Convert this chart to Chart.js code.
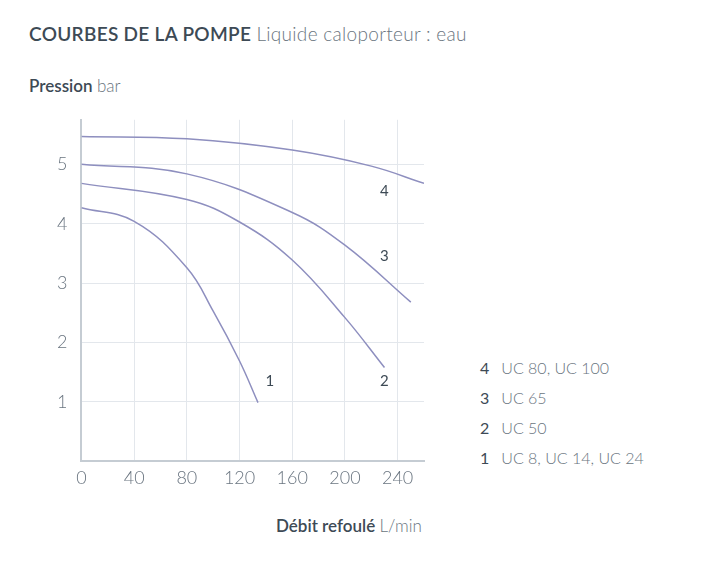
<!DOCTYPE html><html><head><meta charset="utf-8">
<script src="https://cdn.jsdelivr.net/npm/chart.js@4"></script>
<style>
body{margin:0;width:720px;height:570px;background:#fff;font-family:Lato,"Open Sans",sans-serif;color:#3d4a55;position:relative}
.t{position:absolute;left:29px;top:22px;font-size:19px;letter-spacing:0.3px}
.p{position:absolute;left:29px;top:75px;font-size:17px}
.x{position:absolute;left:276px;top:515px;font-size:17px}
.lg{position:absolute;left:480px;font-size:16px;color:#6a7580;font-weight:300}
.lg b{font-weight:normal;color:#3d4a55;margin-right:12px}
#w{position:absolute;left:0;top:95px;width:440px;height:400px}
</style></head><body>
<div class="t"><b style="font-weight:600">COURBES DE LA POMPE</b> <span style="color:#6a7580;font-weight:300">Liquide caloporteur : eau</span></div>
<div class="p"><b style="font-weight:600">Pression</b> <span style="color:#6a7580;font-weight:300">bar</span></div>
<div class="x"><b style="font-weight:600">Débit refoulé</b> <span style="color:#6a7580;font-weight:300">L/min</span></div>
<div class="lg" style="top:358px"><b>4</b>UC 80, UC 100</div>
<div class="lg" style="top:388px"><b>3</b>UC 65</div>
<div class="lg" style="top:418px"><b>2</b>UC 50</div>
<div class="lg" style="top:448px"><b>1</b>UC 8, UC 14, UC 24</div>
<div id="w"><canvas id="c"></canvas></div>
<script>
const x4=[0,80,160,220,260], y4=[5.47,5.43,5.24,4.97,4.68];
const x3=[0,80,160,200,250], y3=[5.0,4.84,4.19,3.64,2.68];
const x2=[0,80,120,160,200,230], y2=[4.68,4.41,4.03,3.39,2.42,1.58];
const x1=[0,40,80,100,120,134], y1=[4.27,4.04,3.26,2.53,1.69,0.99];
const labels=[{t:'4',x:230,y:4.55},{t:'3',x:230,y:3.45},{t:'2',x:230,y:1.35},{t:'1',x:143,y:1.35}];
const xTicks=[0,40,80,120,160,200,240], yTicks=[1,2,3,4,5];
const mk=(xs,ys)=>({data:xs.map((v,i)=>({x:v,y:ys[i]})),borderColor:'#8e8fbf',borderWidth:1.5,pointRadius:0,tension:0.4,fill:false,showLine:true});
const lab={id:'lab',afterDatasetsDraw(c){const g=c.ctx;g.save();g.fillStyle='#3d4a55';g.font='15px Lato';g.textAlign='center';g.textBaseline='middle';
labels.forEach(l=>g.fillText(l.t,c.scales.x.getPixelForValue(l.x),c.scales.y.getPixelForValue(l.y)));g.restore();}};
new Chart(document.getElementById('c'),{type:'scatter',data:{datasets:[mk(x4,y4),mk(x3,y3),mk(x2,y2),mk(x1,y1)]},
options:{responsive:true,maintainAspectRatio:false,animation:false,layout:{padding:{left:43,top:23,right:16,bottom:0}},
plugins:{legend:{display:false},tooltip:{enabled:false}},
scales:{x:{type:'linear',min:0,max:260,afterBuildTicks:a=>{a.ticks=xTicks.map(v=>({value:v}))},
grid:{color:'#e3e7ec',drawTicks:false},border:{color:'#c5ccd3',width:2},ticks:{padding:6,color:'#6a7580',font:{family:'Lato',size:18,weight:300}}},
y:{min:0,max:5.75,afterBuildTicks:a=>{a.ticks=yTicks.map(v=>({value:v}))},
grid:{color:'#e3e7ec',drawTicks:false},border:{color:'#c5ccd3',width:2},ticks:{padding:14,color:'#6a7580',font:{family:'Lato',size:18,weight:300}}}}},
plugins:[lab]});
</script></body></html>
